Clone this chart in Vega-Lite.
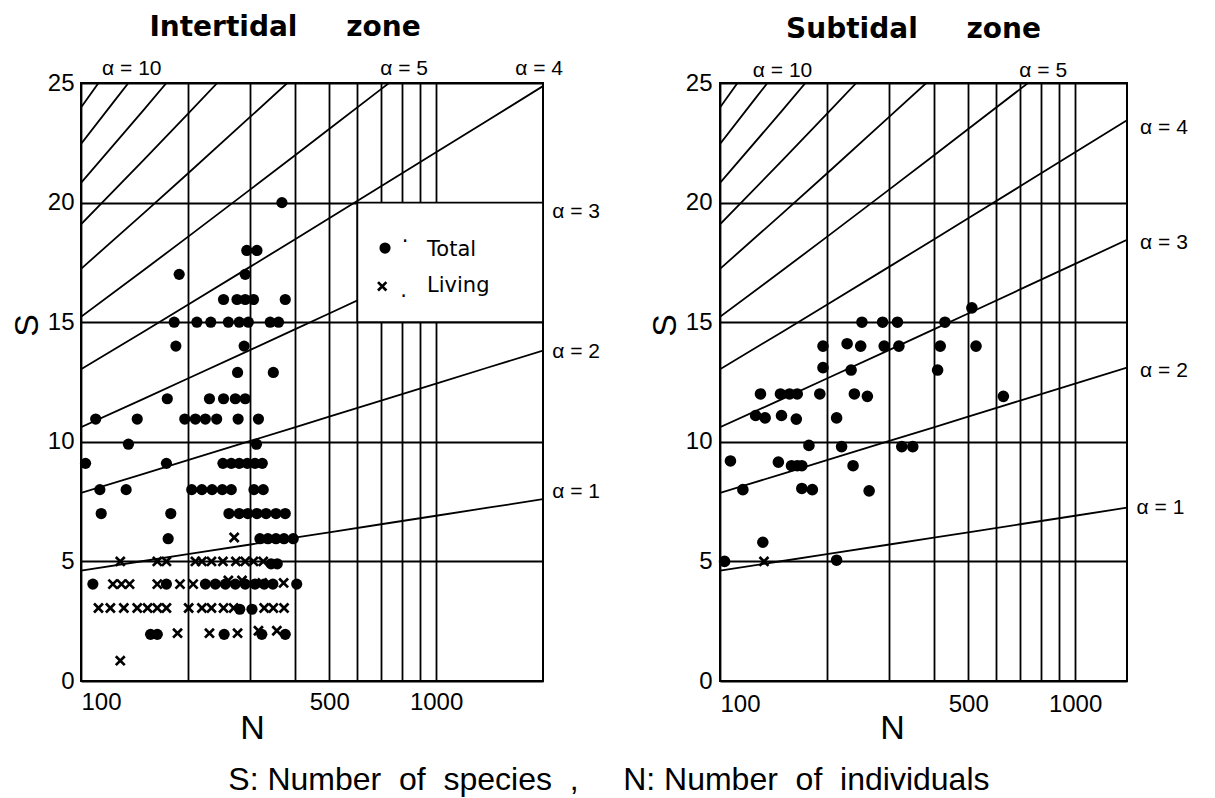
{
  "$schema": "https://vega.github.io/schema/vega-lite/v6.json",
  "background": "white",
  "padding": {"left": 9, "top": 12, "right": 5, "bottom": 5},
  "spacing": 177,
  "bounds": "flush",
  "config": {
    "view": {"stroke": "black", "strokeWidth": 2},
    "axis": {"grid": true, "gridColor": "black", "gridWidth": 1.8, "gridOpacity": 1, "domain": false, "ticks": false, "tickSize": 0, "labelFont": "Liberation Sans", "labelFontSize": 24, "labelColor": "black", "titleFont": "Liberation Sans", "titleColor": "black", "titleFontWeight": "normal", "titleFontSize": 34}
  },
  "title": {"text": "S:\u00a0Number\u00a0\u00a0of\u00a0\u00a0species\u00a0\u00a0,\u00a0\u00a0\u00a0\u00a0\u00a0N:\u00a0Number\u00a0\u00a0of\u00a0\u00a0individuals", "orient": "bottom", "anchor": "middle", "font": "Liberation Sans", "fontSize": 32, "fontWeight": "normal", "color": "black", "offset": 44, "dx": 10, "baseline": "alphabetic"},
  "datasets": {
    "iso": [
      {"a": 1, "N": 100, "S": 4.615}, {"a": 1, "N": 150, "S": 5.017}, {"a": 1, "N": 200, "S": 5.303}, {"a": 1, "N": 300, "S": 5.707}, {"a": 1, "N": 400, "S": 5.994}, {"a": 1, "N": 500, "S": 6.217}, {"a": 1, "N": 700, "S": 6.553}, {"a": 1, "N": 1000, "S": 6.909}, {"a": 1, "N": 1400, "S": 7.245}, {"a": 1, "N": 2000, "S": 7.601},
      {"a": 2, "N": 100, "S": 7.864}, {"a": 2, "N": 150, "S": 8.661}, {"a": 2, "N": 200, "S": 9.23}, {"a": 2, "N": 300, "S": 10.035}, {"a": 2, "N": 400, "S": 10.606}, {"a": 2, "N": 500, "S": 11.051}, {"a": 2, "N": 700, "S": 11.721}, {"a": 2, "N": 1000, "S": 12.434}, {"a": 2, "N": 1400, "S": 13.106}, {"a": 2, "N": 2000, "S": 13.817},
      {"a": 3, "N": 100, "S": 10.609}, {"a": 3, "N": 150, "S": 11.796}, {"a": 3, "N": 200, "S": 12.644}, {"a": 3, "N": 300, "S": 13.845}, {"a": 3, "N": 400, "S": 14.7}, {"a": 3, "N": 500, "S": 15.366}, {"a": 3, "N": 700, "S": 16.37}, {"a": 3, "N": 1000, "S": 17.436}, {"a": 3, "N": 1400, "S": 18.443}, {"a": 3, "N": 2000, "S": 19.511},
      {"a": 4, "N": 100, "S": 13.032}, {"a": 4, "N": 150, "S": 14.604}, {"a": 4, "N": 200, "S": 15.728}, {"a": 4, "N": 300, "S": 17.323}, {"a": 4, "N": 400, "S": 18.46}, {"a": 4, "N": 500, "S": 19.345}, {"a": 4, "N": 700, "S": 20.681}, {"a": 4, "N": 1000, "S": 22.101}, {"a": 4, "N": 1400, "S": 23.443}, {"a": 4, "N": 2000, "S": 24.869},
      {"a": 5, "N": 100, "S": 15.223}, {"a": 5, "N": 150, "S": 17.17}, {"a": 5, "N": 200, "S": 18.568}, {"a": 5, "N": 300, "S": 20.554}, {"a": 5, "N": 400, "S": 21.972}, {"a": 5, "N": 500, "S": 23.075}, {"a": 5, "N": 700, "S": 24.744}, {"a": 5, "N": 737, "S": 25},
      {"a": 6, "N": 100, "S": 17.23}, {"a": 6, "N": 150, "S": 19.549}, {"a": 6, "N": 200, "S": 21.218}, {"a": 6, "N": 300, "S": 23.591}, {"a": 6, "N": 381, "S": 25},
      {"a": 7, "N": 100, "S": 19.089}, {"a": 7, "N": 150, "S": 21.772}, {"a": 7, "N": 200, "S": 23.709}, {"a": 7, "N": 242, "S": 25},
      {"a": 8, "N": 100, "S": 20.821}, {"a": 8, "N": 150, "S": 23.864}, {"a": 8, "N": 174, "S": 25},
      {"a": 9, "N": 100, "S": 22.447}, {"a": 9, "N": 125, "S": 24.305}, {"a": 9, "N": 136, "S": 25},
      {"a": 10, "N": 100, "S": 23.979}, {"a": 10, "N": 112, "S": 25}
    ],
    "inter": [
      {"N": 368, "S": 20, "t": "Total"},
      {"N": 293, "S": 18, "t": "Total"}, {"N": 313, "S": 18, "t": "Total"},
      {"N": 189, "S": 17, "t": "Total"}, {"N": 290, "S": 17, "t": "Total"},
      {"N": 252, "S": 15.95, "t": "Total"}, {"N": 275, "S": 15.95, "t": "Total"}, {"N": 290, "S": 15.95, "t": "Total"}, {"N": 306, "S": 15.95, "t": "Total"}, {"N": 376, "S": 15.95, "t": "Total"},
      {"N": 183, "S": 15, "t": "Total"}, {"N": 212, "S": 15, "t": "Total"}, {"N": 232, "S": 15, "t": "Total"}, {"N": 260, "S": 15, "t": "Total"}, {"N": 279, "S": 15, "t": "Total"}, {"N": 296, "S": 15, "t": "Total"}, {"N": 341, "S": 15, "t": "Total"}, {"N": 360, "S": 15, "t": "Total"},
      {"N": 185, "S": 14, "t": "Total"}, {"N": 288, "S": 14, "t": "Total"},
      {"N": 276, "S": 12.9, "t": "Total"}, {"N": 348, "S": 12.9, "t": "Total"},
      {"N": 175, "S": 11.8, "t": "Total"}, {"N": 230, "S": 11.8, "t": "Total"}, {"N": 252, "S": 11.8, "t": "Total"}, {"N": 272, "S": 11.8, "t": "Total"}, {"N": 290, "S": 11.8, "t": "Total"},
      {"N": 110, "S": 10.95, "t": "Total"}, {"N": 144, "S": 10.95, "t": "Total"}, {"N": 196, "S": 10.95, "t": "Total"}, {"N": 210, "S": 10.95, "t": "Total"}, {"N": 224, "S": 10.95, "t": "Total"}, {"N": 241, "S": 10.95, "t": "Total"}, {"N": 277, "S": 10.95, "t": "Total"}, {"N": 316, "S": 10.95, "t": "Total"},
      {"N": 136, "S": 9.9, "t": "Total"}, {"N": 312, "S": 9.9, "t": "Total"},
      {"N": 103, "S": 9.1, "t": "Total"}, {"N": 174, "S": 9.1, "t": "Total"}, {"N": 251, "S": 9.1, "t": "Total"}, {"N": 265, "S": 9.1, "t": "Total"}, {"N": 279, "S": 9.1, "t": "Total"}, {"N": 294, "S": 9.1, "t": "Total"}, {"N": 309, "S": 9.1, "t": "Total"}, {"N": 324, "S": 9.1, "t": "Total"},
      {"N": 113, "S": 8, "t": "Total"}, {"N": 134, "S": 8, "t": "Total"}, {"N": 205, "S": 8, "t": "Total"}, {"N": 219, "S": 8, "t": "Total"}, {"N": 234, "S": 8, "t": "Total"}, {"N": 250, "S": 8, "t": "Total"}, {"N": 265, "S": 8, "t": "Total"}, {"N": 307, "S": 8, "t": "Total"}, {"N": 326, "S": 8, "t": "Total"},
      {"N": 114, "S": 7, "t": "Total"}, {"N": 179, "S": 7, "t": "Total"}, {"N": 261, "S": 7, "t": "Total"}, {"N": 279, "S": 7, "t": "Total"}, {"N": 295, "S": 7, "t": "Total"}, {"N": 313, "S": 7, "t": "Total"}, {"N": 332, "S": 7, "t": "Total"}, {"N": 354, "S": 7, "t": "Total"}, {"N": 376, "S": 7, "t": "Total"},
      {"N": 176, "S": 5.95, "t": "Total"}, {"N": 319, "S": 5.95, "t": "Total"}, {"N": 336, "S": 5.95, "t": "Total"}, {"N": 354, "S": 5.95, "t": "Total"}, {"N": 373, "S": 5.95, "t": "Total"}, {"N": 396, "S": 5.95, "t": "Total"},
      {"N": 343, "S": 4.9, "t": "Total"}, {"N": 357, "S": 4.9, "t": "Total"},
      {"N": 108, "S": 4.05, "t": "Total"}, {"N": 174, "S": 4.05, "t": "Total"}, {"N": 224, "S": 4.05, "t": "Total"}, {"N": 239, "S": 4.05, "t": "Total"}, {"N": 255, "S": 4.05, "t": "Total"}, {"N": 272, "S": 4.05, "t": "Total"}, {"N": 290, "S": 4.05, "t": "Total"}, {"N": 309, "S": 4.05, "t": "Total"}, {"N": 328, "S": 4.05, "t": "Total"}, {"N": 347, "S": 4.05, "t": "Total"}, {"N": 405, "S": 4.05, "t": "Total"},
      {"N": 280, "S": 3, "t": "Total"}, {"N": 303, "S": 3, "t": "Total"},
      {"N": 157, "S": 1.95, "t": "Total"}, {"N": 164, "S": 1.95, "t": "Total"}, {"N": 253, "S": 1.95, "t": "Total"}, {"N": 323, "S": 1.95, "t": "Total"}, {"N": 376, "S": 1.95, "t": "Total"},
      {"N": 270, "S": 6, "t": "Living"},
      {"N": 129, "S": 5, "t": "Living"}, {"N": 164, "S": 5, "t": "Living"}, {"N": 174, "S": 5, "t": "Living"}, {"N": 210, "S": 5, "t": "Living"}, {"N": 219, "S": 5, "t": "Living"}, {"N": 233, "S": 5, "t": "Living"}, {"N": 251, "S": 5, "t": "Living"}, {"N": 273, "S": 5, "t": "Living"}, {"N": 290, "S": 5, "t": "Living"}, {"N": 306, "S": 5, "t": "Living"}, {"N": 326, "S": 5, "t": "Living"},
      {"N": 123, "S": 4.05, "t": "Living"}, {"N": 130, "S": 4.05, "t": "Living"}, {"N": 137, "S": 4.05, "t": "Living"}, {"N": 164, "S": 4.05, "t": "Living"}, {"N": 190, "S": 4.05, "t": "Living"}, {"N": 207, "S": 4.05, "t": "Living"}, {"N": 260, "S": 4.2, "t": "Living"}, {"N": 284, "S": 4.2, "t": "Living"}, {"N": 324, "S": 4.1, "t": "Living"}, {"N": 372, "S": 4.1, "t": "Living"},
      {"N": 112, "S": 3.05, "t": "Living"}, {"N": 121, "S": 3.05, "t": "Living"}, {"N": 132, "S": 3.05, "t": "Living"}, {"N": 144, "S": 3.05, "t": "Living"}, {"N": 154, "S": 3.05, "t": "Living"}, {"N": 164, "S": 3.05, "t": "Living"}, {"N": 174, "S": 3.05, "t": "Living"}, {"N": 201, "S": 3.05, "t": "Living"}, {"N": 219, "S": 3.05, "t": "Living"}, {"N": 233, "S": 3.05, "t": "Living"}, {"N": 252, "S": 3.05, "t": "Living"}, {"N": 269, "S": 3.05, "t": "Living"}, {"N": 328, "S": 3.05, "t": "Living"}, {"N": 348, "S": 3.05, "t": "Living"}, {"N": 373, "S": 3.05, "t": "Living"},
      {"N": 187, "S": 2, "t": "Living"}, {"N": 230, "S": 2, "t": "Living"}, {"N": 276, "S": 2, "t": "Living"}, {"N": 316, "S": 2.1, "t": "Living"}, {"N": 356, "S": 2.1, "t": "Living"},
      {"N": 129, "S": 0.85, "t": "Living"}
    ],
    "sub": [
      {"N": 512, "S": 15.6, "t": "Total"}, {"N": 251, "S": 15, "t": "Total"}, {"N": 287, "S": 15, "t": "Total"}, {"N": 316, "S": 15, "t": "Total"}, {"N": 430, "S": 15, "t": "Total"},
      {"N": 195, "S": 14, "t": "Total"}, {"N": 228, "S": 14.1, "t": "Total"}, {"N": 249, "S": 14, "t": "Total"}, {"N": 290, "S": 14, "t": "Total"}, {"N": 319, "S": 14, "t": "Total"}, {"N": 417, "S": 14, "t": "Total"}, {"N": 526, "S": 14, "t": "Total"},
      {"N": 195, "S": 13.1, "t": "Total"}, {"N": 234, "S": 13, "t": "Total"}, {"N": 410, "S": 13, "t": "Total"},
      {"N": 130, "S": 12, "t": "Total"}, {"N": 148, "S": 12, "t": "Total"}, {"N": 157, "S": 12, "t": "Total"}, {"N": 165, "S": 12, "t": "Total"}, {"N": 191, "S": 12, "t": "Total"}, {"N": 239, "S": 12, "t": "Total"}, {"N": 260, "S": 11.9, "t": "Total"}, {"N": 628, "S": 11.9, "t": "Total"},
      {"N": 126, "S": 11.1, "t": "Total"}, {"N": 134, "S": 11, "t": "Total"}, {"N": 149, "S": 11.1, "t": "Total"}, {"N": 164, "S": 10.95, "t": "Total"}, {"N": 213, "S": 11, "t": "Total"},
      {"N": 178, "S": 9.85, "t": "Total"}, {"N": 220, "S": 9.8, "t": "Total"}, {"N": 325, "S": 9.8, "t": "Total"}, {"N": 349, "S": 9.8, "t": "Total"},
      {"N": 107, "S": 9.2, "t": "Total"}, {"N": 146, "S": 9.15, "t": "Total"}, {"N": 159, "S": 9, "t": "Total"}, {"N": 165, "S": 9, "t": "Total"}, {"N": 170, "S": 9, "t": "Total"}, {"N": 237, "S": 9, "t": "Total"},
      {"N": 116, "S": 8, "t": "Total"}, {"N": 170, "S": 8.05, "t": "Total"}, {"N": 182, "S": 8, "t": "Total"}, {"N": 263, "S": 7.95, "t": "Total"},
      {"N": 132, "S": 5.8, "t": "Total"}, {"N": 103, "S": 5, "t": "Total"}, {"N": 213, "S": 5.05, "t": "Total"},
      {"N": 133, "S": 5, "t": "Living"}
    ]
  },
  "hconcat": [
    {
      "width": 462,
      "height": 598,
      "title": {"text": "Intertidal\u00a0\u00a0\u00a0\u00a0\u00a0zone", "font": "DejaVu Sans", "fontWeight": "bold", "fontSize": 28, "color": "black", "anchor": "middle", "frame": "group", "dx": -27, "offset": -6, "baseline": "alphabetic"},
      "layer": [
        {
          "data": {"name": "iso"},
          "mark": {"type": "line", "color": "black", "strokeWidth": 1.8, "clip": true},
          "encoding": {
            "x": {"field": "N", "type": "quantitative", "scale": {"type": "log", "domain": [100, 2000], "nice": false},
              "axis": {"values": [100, 200, 300, 400, 500, 600, 700, 800, 900, 1000], "labelExpr": "datum.value == 100 || datum.value == 500 || datum.value == 1000 ? format(datum.value, 'd') : ''", "labelPadding": 9, "labelBaseline": "top", "title": "N", "titleX": 171, "titleY": 57, "titleAlign": "center", "titleBaseline": "alphabetic"}},
            "y": {"field": "S", "type": "quantitative", "scale": {"domain": [0, 25], "nice": false},
              "axis": {"values": [0, 5, 10, 15, 20, 25], "labelPadding": 7, "title": "S", "titleX": -54, "titleY": 242, "titleAngle": -90, "titleAlign": "center", "titleBaseline": "middle"}},
            "detail": {"field": "a", "type": "nominal"}
          }
        },
        {
          "data": {"name": "inter"},
          "transform": [{"filter": "datum.t == 'Total'"}],
          "mark": {"type": "point", "shape": "circle", "filled": true, "color": "black", "size": 125, "opacity": 1},
          "encoding": {"x": {"field": "N", "type": "quantitative", "scale": {"type": "log", "domain": [100, 2000], "nice": false}}, "y": {"field": "S", "type": "quantitative", "scale": {"domain": [0, 25], "nice": false}}}
        },
        {
          "data": {"name": "inter"},
          "transform": [{"filter": "datum.t == 'Living'"}],
          "mark": {"type": "point", "shape": "M-1,-1L1,1M-1,1L1,-1", "filled": false, "color": "black", "strokeWidth": 2.7, "size": 80, "opacity": 1},
          "encoding": {"x": {"field": "N", "type": "quantitative", "scale": {"type": "log", "domain": [100, 2000], "nice": false}}, "y": {"field": "S", "type": "quantitative", "scale": {"domain": [0, 25], "nice": false}}}
        },
        {
          "data": {"values": [{"N": 600, "N2": 2000, "S": 15, "S2": 20}]},
          "mark": {"type": "rect", "fill": "white", "stroke": "black", "strokeWidth": 1.8},
          "encoding": {"x": {"field": "N", "type": "quantitative", "scale": {"type": "log", "domain": [100, 2000], "nice": false}}, "x2": {"field": "N2"}, "y": {"field": "S", "type": "quantitative", "scale": {"domain": [0, 25], "nice": false}}, "y2": {"field": "S2"}}
        },
        {
          "data": {"values": [{"N": 718, "S": 18.1}]},
          "mark": {"type": "point", "shape": "circle", "filled": true, "color": "black", "size": 125, "opacity": 1},
          "encoding": {"x": {"field": "N", "type": "quantitative", "scale": {"type": "log", "domain": [100, 2000], "nice": false}}, "y": {"field": "S", "type": "quantitative", "scale": {"domain": [0, 25], "nice": false}}}
        },
        {
          "data": {"values": [{"N": 705, "S": 16.5}]},
          "mark": {"type": "point", "shape": "M-1,-1L1,1M-1,1L1,-1", "filled": false, "color": "black", "strokeWidth": 2.7, "size": 70, "opacity": 1},
          "encoding": {"x": {"field": "N", "type": "quantitative", "scale": {"type": "log", "domain": [100, 2000], "nice": false}}, "y": {"field": "S", "type": "quantitative", "scale": {"domain": [0, 25], "nice": false}}}
        },
        {
          "data": {"values": [{"N": 943, "S": 18.0, "label": "Total"}, {"N": 943, "S": 16.5, "label": "Living"}, {"N": 800, "S": 18.35, "label": "·"}, {"N": 792, "S": 16.3, "label": "."}]},
          "mark": {"type": "text", "align": "left", "baseline": "middle", "font": "DejaVu Sans", "fontSize": 21, "color": "black"},
          "encoding": {"x": {"field": "N", "type": "quantitative", "scale": {"type": "log", "domain": [100, 2000], "nice": false}}, "y": {"field": "S", "type": "quantitative", "scale": {"domain": [0, 25], "nice": false}}, "text": {"field": "label"}}
        },
        {
          "data": {"values": [{"N": 139, "S": 25.6, "label": "α = 10"}, {"N": 813, "S": 25.6, "label": "α = 5"}, {"N": 1950, "S": 25.6, "label": "α = 4"}]},
          "mark": {"type": "text", "align": "center", "baseline": "middle", "font": "Liberation Sans", "fontSize": 21, "color": "black"},
          "encoding": {"x": {"field": "N", "type": "quantitative", "scale": {"type": "log", "domain": [100, 2000], "nice": false}}, "y": {"field": "S", "type": "quantitative", "scale": {"domain": [0, 25], "nice": false}}, "text": {"field": "label"}}
        },
        {
          "data": {"values": [{"N": 2123, "S": 19.6, "label": "α = 3"}, {"N": 2123, "S": 13.75, "label": "α = 2"}, {"N": 2123, "S": 7.9, "label": "α = 1"}]},
          "mark": {"type": "text", "align": "left", "baseline": "middle", "font": "Liberation Sans", "fontSize": 21, "color": "black"},
          "encoding": {"x": {"field": "N", "type": "quantitative", "scale": {"type": "log", "domain": [100, 2000], "nice": false}}, "y": {"field": "S", "type": "quantitative", "scale": {"domain": [0, 25], "nice": false}}, "text": {"field": "label"}}
        }
      ]
    },
    {
      "width": 407,
      "height": 598,
      "title": {"text": "Subtidal\u00a0\u00a0\u00a0\u00a0\u00a0zone", "font": "DejaVu Sans", "fontWeight": "bold", "fontSize": 28, "color": "black", "anchor": "middle", "frame": "group", "dx": -10, "offset": -6, "baseline": "alphabetic"},
      "layer": [
        {
          "data": {"name": "iso"},
          "transform": [{"filter": "datum.N <= 1400"}],
          "mark": {"type": "line", "color": "black", "strokeWidth": 1.8, "clip": true},
          "encoding": {
            "x": {"field": "N", "type": "quantitative", "scale": {"type": "log", "domain": [100, 1400], "nice": false},
              "axis": {"values": [100, 200, 300, 400, 500, 600, 700, 800, 900, 1000], "labelExpr": "datum.value == 100 || datum.value == 500 || datum.value == 1000 ? format(datum.value, 'd') : ''", "labelPadding": 11, "labelBaseline": "top", "title": "N", "titleX": 172, "titleY": 57, "titleAlign": "center", "titleBaseline": "alphabetic"}},
            "y": {"field": "S", "type": "quantitative", "scale": {"domain": [0, 25], "nice": false},
              "axis": {"values": [0, 5, 10, 15, 20, 25], "labelPadding": 8, "title": "S", "titleX": -55, "titleY": 242, "titleAngle": -90, "titleAlign": "center", "titleBaseline": "middle"}},
            "detail": {"field": "a", "type": "nominal"}
          }
        },
        {
          "data": {"name": "sub"},
          "transform": [{"filter": "datum.t == 'Total'"}],
          "mark": {"type": "point", "shape": "circle", "filled": true, "color": "black", "size": 135, "opacity": 1},
          "encoding": {"x": {"field": "N", "type": "quantitative", "scale": {"type": "log", "domain": [100, 1400], "nice": false}}, "y": {"field": "S", "type": "quantitative", "scale": {"domain": [0, 25], "nice": false}}}
        },
        {
          "data": {"name": "sub"},
          "transform": [{"filter": "datum.t == 'Living'"}],
          "mark": {"type": "point", "shape": "M-1,-1L1,1M-1,1L1,-1", "filled": false, "color": "black", "strokeWidth": 2.7, "size": 80, "opacity": 1},
          "encoding": {"x": {"field": "N", "type": "quantitative", "scale": {"type": "log", "domain": [100, 1400], "nice": false}}, "y": {"field": "S", "type": "quantitative", "scale": {"domain": [0, 25], "nice": false}}}
        },
        {
          "data": {"values": [{"N": 150, "S": 25.5, "label": "α = 10"}, {"N": 813, "S": 25.5, "label": "α = 5"}]},
          "mark": {"type": "text", "align": "center", "baseline": "middle", "font": "Liberation Sans", "fontSize": 21, "color": "black"},
          "encoding": {"x": {"field": "N", "type": "quantitative", "scale": {"type": "log", "domain": [100, 1400], "nice": false}}, "y": {"field": "S", "type": "quantitative", "scale": {"domain": [0, 25], "nice": false}}, "text": {"field": "label"}}
        },
        {
          "data": {"values": [{"N": 1524, "S": 23.1, "label": "α = 4"}, {"N": 1524, "S": 18.3, "label": "α = 3"}, {"N": 1524, "S": 12.95, "label": "α = 2"}, {"N": 1490, "S": 7.25, "label": "α = 1"}]},
          "mark": {"type": "text", "align": "left", "baseline": "middle", "font": "Liberation Sans", "fontSize": 21, "color": "black"},
          "encoding": {"x": {"field": "N", "type": "quantitative", "scale": {"type": "log", "domain": [100, 1400], "nice": false}}, "y": {"field": "S", "type": "quantitative", "scale": {"domain": [0, 25], "nice": false}}, "text": {"field": "label"}}
        }
      ]
    }
  ]
}
